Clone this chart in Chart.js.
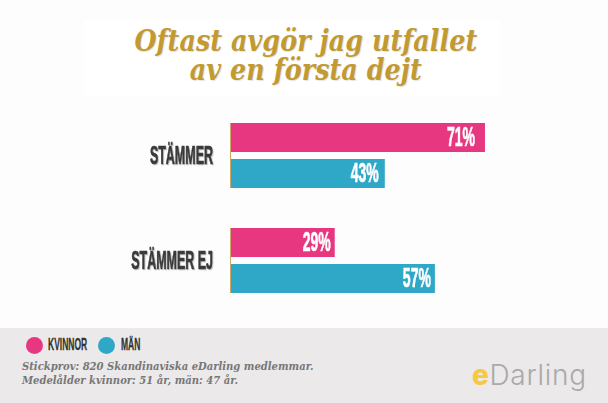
<!DOCTYPE html>
<html lang="sv">
<head>
<meta charset="utf-8">
<title>Oftast avgör jag utfallet av en första dejt</title>
<script src="https://cdn.jsdelivr.net/npm/chart.js@4"></script>
<style>
    html, body { margin: 0; padding: 0; width: 608px; height: 403px; overflow: hidden; background: #fdfdfd; }
    .abs { position: absolute; white-space: nowrap; }
    #title-box { left: 84px; top: 20px; width: 416px; height: 75px; background: #fff; }
    #title { left: 98px; top: 27px; width: 416px; text-align: center; color: #c29a32;
        font: italic bold 29px/29px "DejaVu Serif", serif; text-shadow: 1px 1px 1px #e4e4e4; }
    #title span { display: inline-block; transform-origin: center; transform: scaleX(0.88); }
    #footer { left: 0; top: 328px; width: 608px; height: 75px; background: #ebe9ea; }
    .dot { width: 17px; height: 17px; border-radius: 50%; top: 336.5px; }
    .leg { top: 336px; font: bold 17px/18px "Liberation Sans Narrow", sans-serif; color: #333; -webkit-text-stroke: 0.3px #333; transform-origin: left center; transform: scaleX(0.5); }
    #note { left: 22px; top: 360px; color: #777; font: italic bold 11px/14px "DejaVu Serif", serif; transform-origin: left top; transform: scaleX(0.91); }
    #logo { left: 472px; top: 357px; color: #a9a9a9; font: 300 28px/36px Inter, sans-serif; letter-spacing: 0.7px; }
    #logo b { color: #f7c840; font-weight: 800; }
    #chart { position: absolute; left: 0; top: 0; }
</style>
</head>
<body>
<div class="abs" id="title-box"></div>
<div class="abs" id="title"><span>Oftast avgör jag utfallet</span><br><span>av en första dejt</span></div>
<div class="abs" id="footer"></div>
<div id="legende"></div>
<div class="abs" id="note">Stickprov: 820 Skandinaviska eDarling medlemmar.<br>Medelålder kvinnor: 51 år, män: 47 år.</div>
<div class="abs" id="logo"><b>e</b>Darling</div>
<canvas id="chart" width="608" height="403"></canvas>

<script>
const categories = ["STÄMMER", "STÄMMER EJ"];
const seriesNames = ["KVINNOR", "MÄN"];
const kvinnor = [71, 29];
const man = [43, 57];
const seriesColors = ["#e63780", "#2fa8c7"];

// the % labels don't sit at the same distance from the bar end in the original
const labelInsets = [[10, 4], [6, 4]];

function texteEtroit(ctx, text, x, y, size, scaleX, color) {
    ctx.save();
    ctx.translate(x, y);
    ctx.scale(scaleX, 1);
    ctx.font = `bold ${size}px "Liberation Sans Narrow", sans-serif`;
    ctx.textAlign = "right";
    ctx.textBaseline = "middle";
    ctx.fillStyle = color;
    ctx.strokeStyle = color;
    ctx.lineWidth = 0.7;
    ctx.fillText(text, 0, 0);
    ctx.strokeText(text, 0, 0);
    ctx.restore();
}

const decorations = {
    id: "decorations",
    afterDatasetsDraw(chart) {
        const ctx = chart.ctx;
        const metaK = chart.getDatasetMeta(0);
        const metaM = chart.getDatasetMeta(1);

        categories.forEach((label, i) => {
            const haut = metaK.data[i].y - metaK.data[i].height / 2;
            const bas = metaM.data[i].y + metaM.data[i].height / 2;

            // tan axis line, one piece per group
            ctx.fillStyle = "#cfa968";
            ctx.fillRect(chart.chartArea.left - 1, haut, 1, bas - haut);

            ctx.save();
            ctx.shadowColor = "rgba(0,0,0,0.2)";
            ctx.shadowOffsetX = 1;
            ctx.shadowOffsetY = 1;
            ctx.shadowBlur = 1;
            texteEtroit(ctx, label, 213, chart.scales.y.getPixelForTick(i) + 1, 26, 0.48, "#3d3d3d");
            ctx.restore();

            [metaK, metaM].forEach((meta, d) => {
                const bar = meta.data[i];
                const valeur = chart.data.datasets[d].data[i];
                texteEtroit(ctx, valeur + "%", bar.x - labelInsets[d][i], bar.y + 1, 28, 0.5, "#ffffff");
            });
        });
    }
};

const chart = new Chart(document.getElementById("chart"), {
    type: "bar",
    data: {
        labels: categories,
        datasets: [
            { label: seriesNames[0], data: kvinnor, backgroundColor: seriesColors[0] },
            { label: seriesNames[1], data: man, backgroundColor: seriesColors[1] }
        ]
    },
    options: {
        indexAxis: "y",
        responsive: false,
        animation: false,
        devicePixelRatio: 1,
        categoryPercentage: 0.6857,
        barPercentage: 0.8056,
        layout: { padding: { left: 231, right: 19.3, top: 103, bottom: 90 } },
        scales: {
            x: { display: false, min: 0, max: 100 },
            y: { display: false }
        },
        plugins: {
            legend: { display: false },
            title: { display: false },
            tooltip: { enabled: false }
        }
    },
    plugins: [decorations]
});

// legend built from the datasets
const legende = document.getElementById("legende");
const dotX = [26, 98];
const textX = [48, 121];
chart.data.datasets.forEach((ds, i) => {
    legende.innerHTML += `<div class="abs dot" style="left:${dotX[i]}px;background:${ds.backgroundColor}"></div>` +
        `<div class="abs leg" style="left:${textX[i]}px">${ds.label}</div>`;
});
</script>
</body>
</html>
